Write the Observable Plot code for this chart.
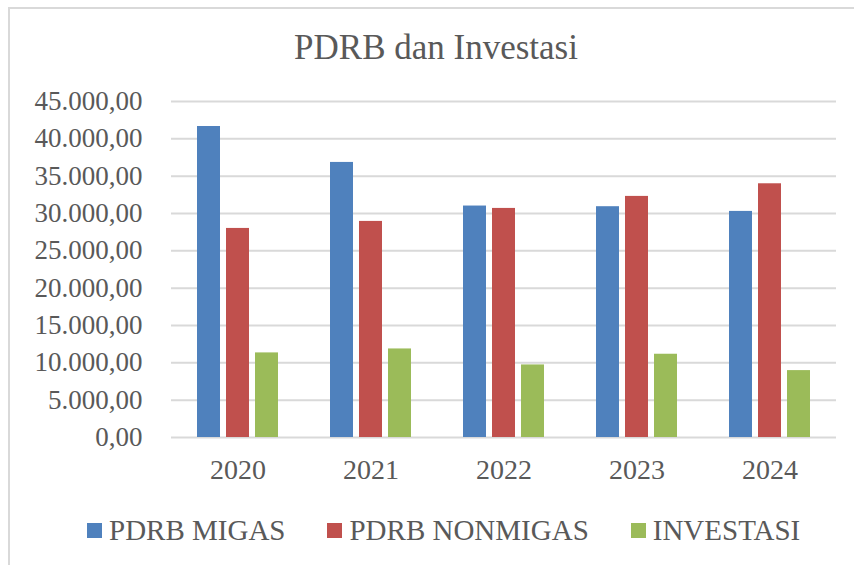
<!DOCTYPE html>
<html>
<head>
<meta charset="utf-8">
<script src="https://cdn.jsdelivr.net/npm/d3@7"></script>
<script src="https://cdn.jsdelivr.net/npm/@observablehq/plot@0.6"></script>
<style>
  html, body { margin: 0; padding: 0; background: #fff; width: 854px; height: 565px; overflow: hidden; }
  #frame { position: absolute; left: 8px; top: 7px; width: 870px; height: 580px; border: 2px solid #d9d9d9; box-sizing: border-box; }
  #title { position: absolute; left: 0; top: 30px; width: 872px; text-align: center; font-family: "Liberation Serif", "Times New Roman", serif; font-size: 35px; line-height: 35px; color: #595959; }
  #chart { position: absolute; left: 0; top: 0; }
  #chart svg, #chart svg text { font-family: "Liberation Serif", "Times New Roman", serif !important; }
  #legend { position: absolute; left: 87px; top: 510px; }
  #legend .lg-swatches { font-family: "Liberation Serif", "Times New Roman", serif !important; font-size: 29px; color: #595959; margin: 0; }
  #legend .lg-swatches-wrap { min-height: 40px; height: 40px; flex-wrap: nowrap; white-space: nowrap; }
  #legend .lg-swatches-wrap .lg-swatch { margin-right: 42px; }
  #legend .lg-swatch > svg { margin-right: 7px; }
</style>
</head>
<body>
<div id="frame"></div>
<div id="title">PDRB dan Investasi</div>
<div id="chart"></div>
<div id="legend"></div>
<script>
const years = ["2020", "2021", "2022", "2023", "2024"];
const seriesNames = ["PDRB MIGAS", "PDRB NONMIGAS", "INVESTASI"];
const pdrbMigas = [41650, 36840, 31000, 30910, 30280];
const pdrbNonmigas = [28000, 28940, 30680, 32290, 33980];
const investasi = [11330, 11860, 9720, 11150, 8960];
const colors = ["#4F81BD", "#C0504D", "#9BBB59"];
const yTicks = [0, 5000, 10000, 15000, 20000, 25000, 30000, 35000, 40000, 45000];

const seriesValues = [pdrbMigas, pdrbNonmigas, investasi];
const data = [];
years.forEach((yr, i) => {
  seriesNames.forEach((s, j) => data.push({year: yr, series: s, value: seriesValues[j][i]}));
});

const locale = d3.formatLocale({decimal: ",", thousands: ".", grouping: [3], currency: ["", ""]});
const fmt = locale.format(",.2f");

const plot = Plot.plot({
  width: 854,
  height: 500,
  marginLeft: 169,
  marginRight: 17,
  marginTop: 101,
  marginBottom: 63,
  style: {color: "#595959", background: "transparent"},
  fx: {domain: years, padding: 0, label: null},
  x: {domain: seriesNames, paddingInner: 0.22, paddingOuter: 0.875, axis: null},
  y: {domain: [0, 45000], label: null},
  color: {domain: seriesNames, range: colors},
  marks: [
    Plot.gridY(yTicks, {stroke: "#d9d9d9", strokeOpacity: 1, strokeWidth: 2}),
    Plot.axisY(yTicks, {tickSize: 0, tickPadding: 29, fontSize: 27, tickFormat: fmt, label: null}),
    Plot.axisFx({anchor: "bottom", tickSize: 0, tickPadding: 22, fontSize: 28, label: null}),
    Plot.barY(data, {fx: "year", x: "series", y: "value", fill: "series"})
  ]
});
document.getElementById("chart").appendChild(plot);

const legend = Plot.legend({
  color: {domain: seriesNames, range: colors},
  legend: "swatches",
  swatchSize: 15,
  className: "lg"
});
document.getElementById("legend").appendChild(legend);
</script>
</body>
</html>
